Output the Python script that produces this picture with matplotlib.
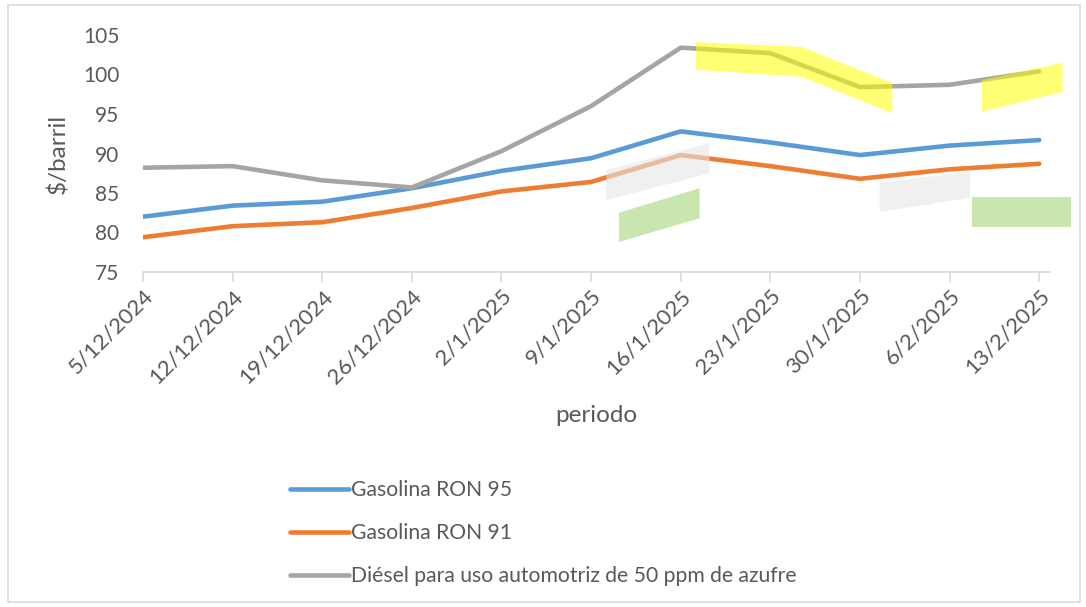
import matplotlib
matplotlib.use("Agg")
import matplotlib.pyplot as plt
from matplotlib.patches import Polygon, Rectangle

fechas = ["5/12/2024", "12/12/2024", "19/12/2024", "26/12/2024", "2/1/2025",
          "9/1/2025", "16/1/2025", "23/1/2025", "30/1/2025", "6/2/2025", "13/2/2025"]
ron95 = [82.0, 83.4, 83.9, 85.6, 87.8, 89.4, 92.8, 91.4, 89.8, 91.0, 91.7]
ron91 = [79.4, 80.8, 81.3, 83.1, 85.2, 86.4, 89.8, 88.4, 86.8, 88.0, 88.7]
diesel = [88.2, 88.4, 86.6, 85.7, 90.3, 96.0, 103.4, 102.7, 98.4, 98.7, 100.4]
series_names = ["Gasolina RON 95", "Gasolina RON 91",
                "Diésel para uso automotriz de 50 ppm de azufre"]
colors = ["#5B9BD5", "#ED7D31", "#A5A5A5"]
yticks = [75, 80, 85, 90, 95, 100, 105]

plt.rcParams['font.family'] = ['Lato', 'DejaVu Sans']
txt = "#595959"

W, H = 1086, 607
fig = plt.figure(figsize=(W / 100, H / 100), dpi=100)
ax = fig.add_axes([143 / W, 1 - 272 / H, (1050 - 143) / W, 237 / H])

x = list(range(len(fechas)))
for vals, name, c in zip([ron95, ron91, diesel], series_names, colors):
    ax.plot(x, vals, color=c, lw=3.3, label=name, solid_capstyle='round', zorder=3)

# highlighter marks present on the original screenshot (decorative)
yellow = [[(6.17, 104.1), (7.35, 103.5), (7.35, 99.7), (6.17, 100.6)],
          [(7.35, 103.5), (8.36, 98.9), (8.36, 95.1), (7.35, 99.7)],
          [(9.36, 99.3), (10.26, 101.5), (10.26, 97.8), (9.36, 95.3)]]
grey = [[(5.17, 87.9), (6.32, 91.3), (6.32, 87.5), (5.17, 84.1)],
        [(8.22, 86.3), (9.23, 87.7), (9.23, 84.4), (8.22, 82.6)]]
green = [[(5.31, 82.5), (6.21, 85.6), (6.21, 81.8), (5.31, 78.8)],
         [(9.25, 84.5), (10.35, 84.5), (10.35, 80.7), (9.25, 80.7)]]
for p in yellow:
    ax.add_patch(Polygon(p, closed=True, fc="#FFFF00", ec="none", alpha=0.55, zorder=4, clip_on=False))
for p in grey:
    ax.add_patch(Polygon(p, closed=True, fc="#E6E6E6", ec="none", alpha=0.6, zorder=4, clip_on=False))
for p in green:
    ax.add_patch(Polygon(p, closed=True, fc="#C9E6AE", ec="none", alpha=1.0, zorder=4, clip_on=False))

ax.set_xlim(0, 10.12)
ax.set_ylim(75, 105)
ax.set_yticks(yticks)
ax.set_yticklabels([str(v) for v in yticks], fontsize=15, color=txt)
ax.set_xticks(x)
ax.set_xticklabels(fechas, rotation=45, ha='right', va='top', rotation_mode='anchor',
                   fontsize=16, color=txt)
for s in ['top', 'right', 'left']:
    ax.spines[s].set_visible(False)
ax.spines['bottom'].set_color("#D9D9D9")
ax.spines['bottom'].set_linewidth(1.2)
ax.tick_params(axis='y', length=0, pad=17)
ax.tick_params(axis='x', length=7, color="#D9D9D9", width=1.2, pad=3)

fig.text(58 / W, 1 - 154 / H, "$/barril", rotation=90, ha='center', va='center',
         fontsize=17.5, color=txt)
fig.text(596 / W, 1 - 415 / H, "periodo", ha='center', va='center', fontsize=17.5, color=txt)

handles, labels = ax.get_legend_handles_labels()
leg = fig.legend(handles, labels, loc='upper left', bbox_to_anchor=(282 / W, 1 - 472 / H),
                 frameon=False, fontsize=15.2, labelcolor=txt, handlelength=2.75,
                 handletextpad=0.1, labelspacing=1.08, borderaxespad=0)

fig.patches.append(Rectangle((8 / W, 5 / H), (W - 14) / W, (H - 10) / H, transform=fig.transFigure,
                             fill=False, ec="#D9D9D9", lw=1.2))
fig.savefig("out.png", dpi=100)
